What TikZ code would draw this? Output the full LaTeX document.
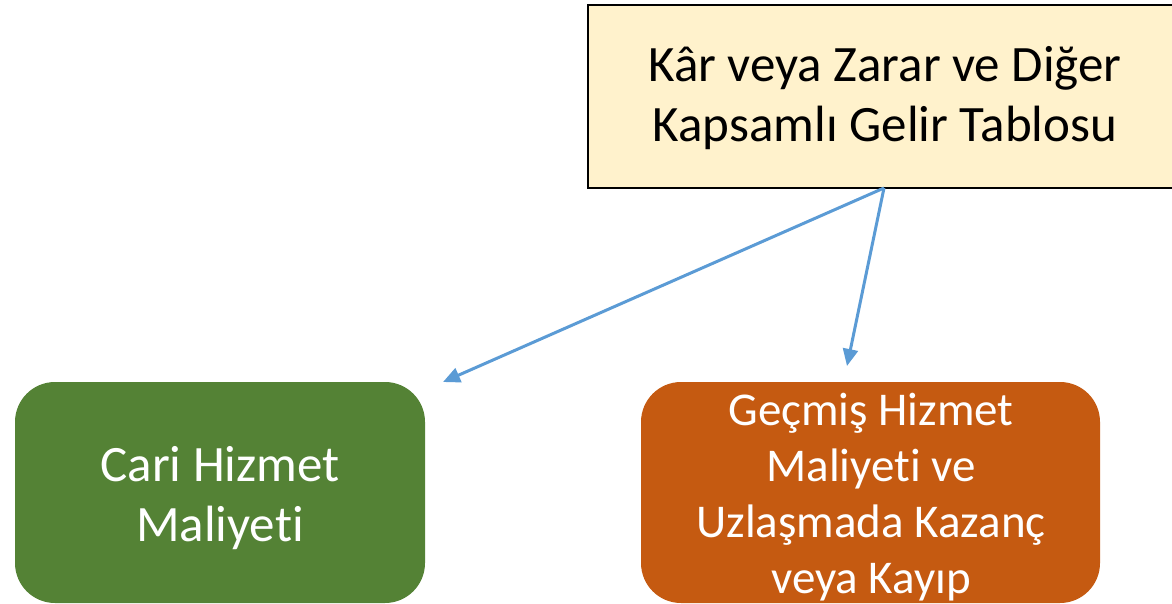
\documentclass[tikz,border=0pt]{standalone}
\usepackage{fontspec}
\setmainfont{Carlito}[Ligatures=NoCommon]
\usetikzlibrary{arrows.meta}
\definecolor{topfill}{HTML}{FFF2CC}
\definecolor{greenfill}{HTML}{548235}
\definecolor{orangefill}{HTML}{C55A11}
\definecolor{arrowblue}{HTML}{5B9BD5}
\tikzset{
  topbox/.style={draw=black, line width=2pt, fill=topfill, minimum width=594pt, minimum height=183pt, inner sep=0pt},
  roundbox/.style={rounded corners=40pt, minimum height=221pt, inner sep=0pt},
  bigtext/.style={font=\fontsize{51}{60}\selectfont, align=center, inner sep=0pt},
  conn/.style={draw=arrowblue, line width=3pt, -{Triangle[length=17pt,width=15pt]}},
}
\begin{document}
\begin{tikzpicture}[x=1pt,y=1pt]
\useasboundingbox (0,0) rectangle (1172,-604);
\node[topbox] (top) at (885,-96.5) {};
\node[bigtext, text=black] (toptext) at (885,-98) {Kâr veya Zarar ve Diğer\\Kapsamlı Gelir Tablosu};
\node[roundbox, fill=greenfill, minimum width=410pt] (cur) at (220,-492.5) {};
\node[bigtext, text=white] (curtext) at (220,-498.5) {Cari Hizmet\\Maliyeti};
\node[roundbox, fill=orangefill, minimum width=459pt] (past) at (870.5,-492.5) {};
\node[bigtext, text=white, font=\fontsize{47}{56}\selectfont] (pasttext) at (871,-497) {Geçmiş Hizmet\\Maliyeti ve\\Uzlaşmada Kazanç\\veya Kayıp};
\coordinate (src) at (884,-188);
\coordinate (endL) at (443,-382);
\coordinate (endR) at (847,-366);
\draw[conn] (src) -- (endL);
\draw[conn] (src) -- (endR);
\end{tikzpicture}
\end{document}
